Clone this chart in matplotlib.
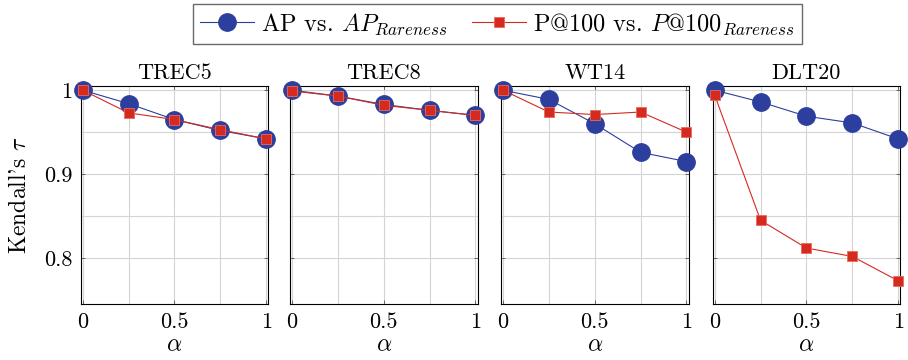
import matplotlib
matplotlib.use("Agg")
import matplotlib.pyplot as plt
from matplotlib.ticker import FixedLocator, FuncFormatter

plt.rcParams['font.family'] = ['cmr10', 'DejaVu Serif']
plt.rcParams['mathtext.fontset'] = 'cm'
plt.rcParams['axes.formatter.use_mathtext'] = True

alpha = [0, 0.25, 0.5, 0.75, 1]
datasets = ["TREC5", "TREC8", "WT14", "DLT20"]
ap_values = {
    "TREC5": [1.0, 0.984, 0.965, 0.952, 0.942],
    "TREC8": [1.0, 0.993, 0.983, 0.976, 0.970],
    "WT14":  [1.0, 0.989, 0.960, 0.926, 0.915],
    "DLT20": [1.0, 0.986, 0.969, 0.961, 0.942],
}
p100_values = {
    "TREC5": [1.0, 0.973, 0.965, 0.953, 0.942],
    "TREC8": [0.999, 0.993, 0.982, 0.976, 0.970],
    "WT14":  [1.0, 0.974, 0.971, 0.974, 0.950],
    "DLT20": [0.994, 0.845, 0.812, 0.802, 0.773],
}
label_ap = r"AP vs. $AP_{Rareness}$"
label_p = r"P@100 vs. $P@100_{Rareness}$"

blue = '#2c3f9e'
red = '#d42a1f'

fig = plt.figure(figsize=(9.08, 3.6), dpi=100)
lefts = [80.7, 290.0, 501.0, 712.7]
width = 187.5
bottom = (360 - 304.3) / 360
top = (360 - 86) / 360

axes = []
for i, name in enumerate(datasets):
    ax = fig.add_axes([lefts[i] / 908, bottom, width / 908, top - bottom])
    axes.append(ax)
    ax.plot(alpha, ap_values[name], '-o', color=blue, lw=0.8, ms=12.5,
            mfc=blue, mec=blue, label=label_ap, zorder=3, clip_on=False)
    ax.plot(alpha, p100_values[name], '-s', color=red, lw=0.8, ms=7,
            mfc=red, mec='#e86a5e', mew=0.6, label=label_p, zorder=4,
            clip_on=False)
    ax.set_xlim(-0.011, 1.011)
    ax.set_ylim(0.745, 1.005)
    ax.xaxis.set_major_locator(FixedLocator([0, 0.5, 1]))
    ax.xaxis.set_minor_locator(FixedLocator([0.25, 0.75]))
    ax.yaxis.set_major_locator(FixedLocator([0.8, 0.9, 1.0]))
    ax.yaxis.set_minor_locator(FixedLocator([0.85, 0.95]))
    fmt = FuncFormatter(lambda v, p: '%g' % round(v, 3))
    ax.xaxis.set_major_formatter(fmt)
    ax.yaxis.set_major_formatter(fmt)
    ax.grid(True, which='both', color='#d4d4d4', lw=0.8, zorder=0)
    ax.set_axisbelow(True)
    ax.tick_params(which='both', direction='in', top=True, right=True,
                   length=3, width=0.6, labelsize=16, color='#555555')
    ax.tick_params(axis='x', pad=6)
    ax.tick_params(axis='y', pad=6)
    ax.tick_params(which='minor', length=0)
    if i > 0:
        ax.tick_params(axis='y', labelleft=False)
    for s in ax.spines.values():
        s.set_linewidth(0.8)
    ax.set_title(name, fontsize=16, pad=5)
    ax.set_xlabel(r'$\alpha$', fontsize=17, labelpad=1)

axes[0].set_ylabel(r"Kendall's $\tau$", fontsize=17, labelpad=9)

h, l = axes[0].get_legend_handles_labels()
fig.legend(h, l, loc='upper center', bbox_to_anchor=(0.548, 0.995), ncol=2,
           fontsize=17.5, frameon=True, fancybox=False, edgecolor='#444444',
           handlelength=2.2, columnspacing=1.0, borderpad=0.3,
           handletextpad=0.3, borderaxespad=0.1)

fig.savefig('out.png', dpi=100)
